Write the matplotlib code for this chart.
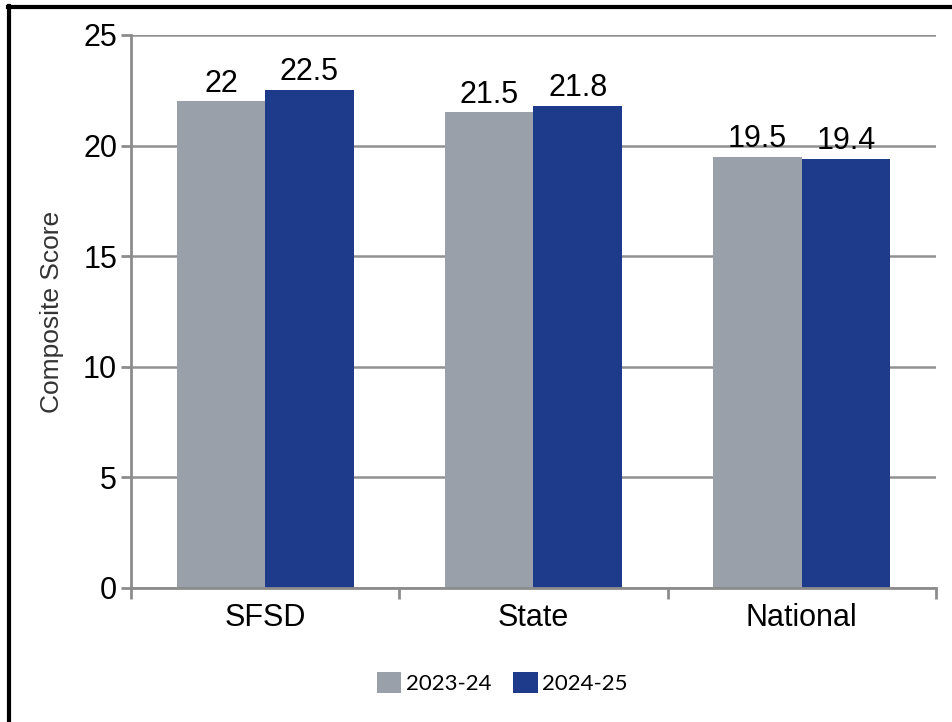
import matplotlib
matplotlib.use('Agg')
import matplotlib.pyplot as plt
from matplotlib.lines import Line2D
import numpy as np

# Data
categories = ['SFSD', 'State', 'National']
series_names = ['2023-24', '2024-25']
scores_2023 = [22, 21.5, 19.5]
scores_2024 = [22.5, 21.8, 19.4]
y_ticks = [0, 5, 10, 15, 20, 25]

GRAY = '#9aa0aa'
BLUE = '#1e3a8a'
AXIS = '#8c8c8c'

plt.rcParams['font.family'] = ['Liberation Sans', 'DejaVu Sans']

fig = plt.figure(figsize=(9.53, 7.22), dpi=100)
ax = fig.add_axes([0.1375, 0.1856, 0.8445, 0.766])

x = np.arange(len(categories))
w = 0.33
b1 = ax.bar(x - w / 2, scores_2023, w, color=GRAY, label=series_names[0], zorder=2)
b2 = ax.bar(x + w / 2, scores_2024, w, color=BLUE, label=series_names[1], zorder=2)
ax.bar_label(b1, labels=[f'{v:g}' for v in scores_2023], padding=2, fontsize=22, zorder=3)
ax.bar_label(b2, labels=[f'{v:g}' for v in scores_2024], padding=2, fontsize=22, zorder=3)

ax.set_xlim(-0.5, len(categories) - 0.5)
ax.set_ylim(0, 25)
ax.set_yticks(y_ticks)
ax.set_yticklabels([str(t) for t in y_ticks], fontsize=22)
ax.set_xticks(x)
ax.set_xticklabels(categories, fontsize=22)
ax.set_xticks(np.arange(-0.5, len(categories)), minor=True)
ax.tick_params(axis='x', which='major', length=0, pad=11)
ax.tick_params(axis='x', which='minor', length=8, width=2, color=AXIS, direction='out')
ax.tick_params(axis='y', length=7, width=2, color=AXIS, direction='out', pad=3)

ax.yaxis.grid(True, color='#919191', linewidth=1.8, zorder=0)
ax.set_axisbelow(True)
for side in ['top', 'right']:
    ax.spines[side].set_visible(False)
for side in ['left', 'bottom']:
    ax.spines[side].set_color(AXIS)
    ax.spines[side].set_linewidth(2)

ax.set_ylabel('Composite Score', fontsize=19, labelpad=14, color='#333333')

fig.legend(loc='center', bbox_to_anchor=(0.527, 0.054), ncol=2, frameon=False,
           handlelength=1.1, handleheight=1.1, handletextpad=0.2, columnspacing=1.0,
           prop={'family': 'Lato', 'size': 16})

# black frame on the top and left edges
fig.add_artist(Line2D([8 / 953, 1], [1 - 7 / 722, 1 - 7 / 722], color='black', linewidth=3,
                      transform=fig.transFigure))
fig.add_artist(Line2D([9.5 / 953, 9.5 / 953], [0, 1 - 5.5 / 722], color='black', linewidth=3,
                      transform=fig.transFigure))

fig.savefig('out.png', dpi=100)
